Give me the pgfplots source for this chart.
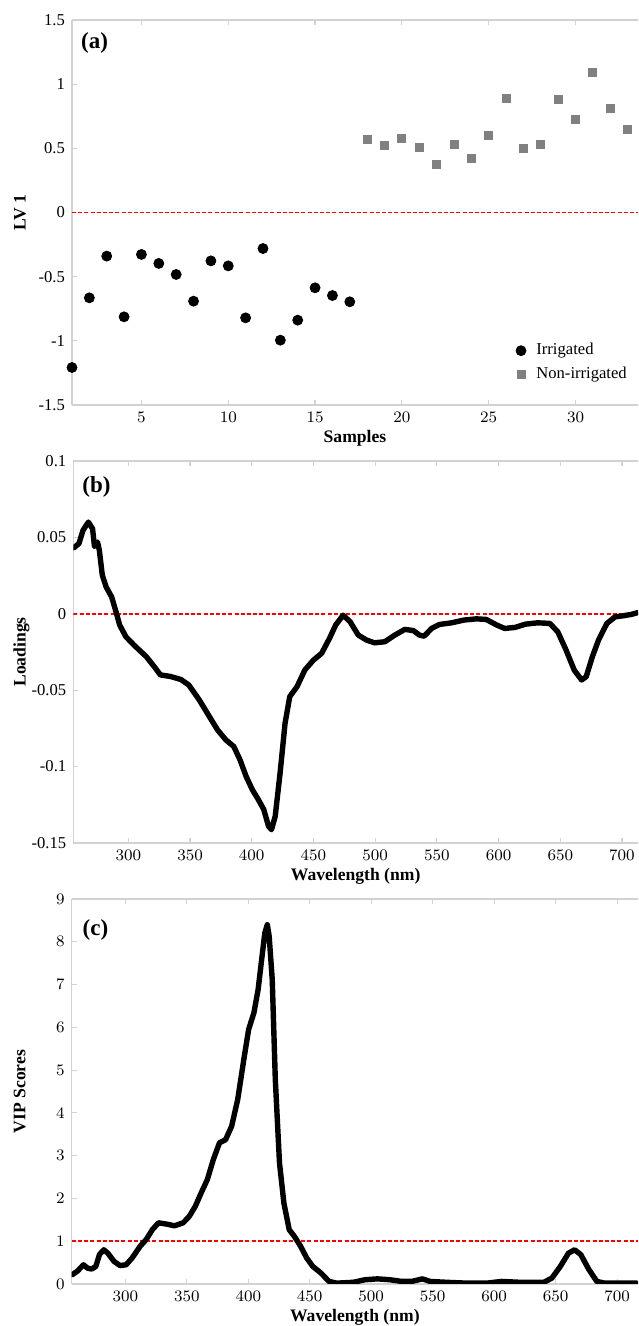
\documentclass[border=0pt]{standalone}
\usepackage{pgfplots}
\pgfplotsset{compat=1.18}
\usepackage{fontspec}
\setmainfont{Liberation Serif}
\definecolor{axgray}{RGB}{210,210,210}
\definecolor{sqgray}{RGB}{128,128,128}
\pgfplotsset{
  panel/.style={
    scale only axis, anchor=south west,
    axis y line*=left,
    axis line style={axgray, line width=0.7pt},
    tick style={axgray, line width=0.6pt},
    major tick length=2.5pt,
    tick align=inside,
    ticklabel style={font=\fontsize{8.3}{9}\selectfont, text=black},
    every axis y label/.style={at={(axis description cs:-0.092,0.5)}, rotate=90, anchor=center, font=\bfseries\fontsize{8.8}{10}\selectfont},
    every axis x label/.style={at={(axis description cs:0.5,-0.087)}, anchor=center, font=\bfseries\fontsize{8.8}{10}\selectfont},
    clip mode=individual,
  },
  redline/.style={red, dashed, line width=0.9pt, dash pattern=on 2pt off 1.1pt},
  curve/.style={black, line width=2.7pt, line join=round, line cap=round},
}
\begin{document}
\begin{tikzpicture}
\path[use as bounding box] (0,0) rectangle (319pt,663pt);

% ---------- (a)
\begin{axis}[panel,
  at={(36pt,460.5pt)}, width=283pt, height=192.5pt,
  xmin=1, xmax=33.6, ymin=-1.5, ymax=1.5,
  xtick={5,10,15,20,25,30},
  ytick={-1.5,-1,-0.5,0,0.5,1,1.5},
  yticklabels={-1.5,-1,-0.5,0,0.5,1,1.5},
  xlabel={Samples}, ylabel={LV 1},
  legend style={at={(axis cs:26.55,-0.955)}, anchor=north west, draw=none, fill=none,
    font=\fontsize{8.3}{10}\selectfont, row sep=0.6pt, inner xsep=0pt,
    /tikz/every odd column/.append style={column sep=3.2pt}},
  legend cell align=left,
]
\addplot[only marks, mark=*, mark size=2.5pt, black] coordinates {
(1,-1.208) (2,-0.665) (3,-0.340) (4,-0.813) (5,-0.327) (6,-0.397) (7,-0.483)
(8,-0.691) (9,-0.377) (10,-0.416) (11,-0.821) (12,-0.281) (13,-0.995) (14,-0.839)
(15,-0.587) (16,-0.647) (17,-0.696)};
\addlegendentry{Irrigated}
\addplot[only marks, mark=square*, mark size=2pt, sqgray] coordinates {
(18,0.566) (19,0.525) (20,0.574) (21,0.509) (22,0.377) (23,0.532) (24,0.418)
(25,0.597) (26,0.888) (27,0.499) (28,0.527) (29,0.881) (30,0.727) (31,1.091)
(32,0.810) (33,0.647)};
\addlegendentry{Non-irrigated}
\addplot[redline, forget plot] coordinates {(1,0) (33.6,0)};
\node[font=\bfseries\fontsize{11.5}{13}\selectfont] at (rel axis cs:0.04,0.94) {(a)};
\end{axis}

% ---------- (b)
\begin{axis}[panel,
  at={(36.65pt,241.5pt)}, width=282.35pt, height=191pt,
  xmin=255.4, xmax=713, ymin=-0.15, ymax=0.1,
  xtick={300,350,400,450,500,550,600,650,700},
  ytick={-0.15,-0.1,-0.05,0,0.05,0.1},
  yticklabels={-0.15,-0.1,-0.05,0,0.05,0.1},
  xlabel={Wavelength (nm)}, ylabel={Loadings},
]
\addplot[redline] coordinates {(255.4,0) (713,0)};
\addplot[curve] coordinates {
(256,0.0433) (260,0.046) (263.3,0.0547) (267.6,0.060) (271,0.0557) (272.6,0.044)
(275,0.047) (276.5,0.0416) (278.9,0.0253) (282,0.0176) (286.5,0.011) (290,0.0013)
(293,-0.0074) (298,-0.015) (304.6,-0.0205) (314.5,-0.028) (321,-0.0346) (326,-0.040)
(334,-0.041) (342.6,-0.043) (349,-0.0466) (357.5,-0.0564) (365.7,-0.0673) (372.3,-0.076)
(379,-0.0825) (385.5,-0.0869) (390.5,-0.0956) (395.5,-0.1065) (400.4,-0.115) (405.4,-0.1217)
(409.7,-0.128) (413.6,-0.139) (416,-0.1413) (419,-0.1326) (423,-0.104) (427,-0.0716)
(430.8,-0.0542) (436.7,-0.0477) (443,-0.0368) (450,-0.0303) (456.6,-0.0259) (463,-0.0161)
(468,-0.0074) (474,-0.0009) (479.7,-0.0052) (486.3,-0.0139) (493,-0.0172) (499.5,-0.019)
(507.8,-0.0183) (516,-0.0139) (524,-0.0102) (531,-0.011) (536,-0.014) (539.8,-0.0146)
(545.7,-0.0096) (552,-0.007) (562,-0.0059) (572,-0.0041) (582,-0.0033) (590,-0.0037)
(598.6,-0.0074) (605,-0.0096) (613.5,-0.0089) (621.7,-0.0068) (631.6,-0.0059) (641.5,-0.0063)
(648,-0.0118) (654.7,-0.0237) (661.3,-0.0368) (667.3,-0.0433) (671,-0.0412) (676,-0.0281)
(681,-0.0172) (687.8,-0.0063) (694.4,-0.002) (701,-0.0013) (707.6,-0.0004) (712.5,0.0007)};
\node[font=\bfseries\fontsize{11.5}{13}\selectfont] at (rel axis cs:0.041,0.932) {(b)};
\end{axis}

% ---------- (c)
\begin{axis}[panel,
  at={(35.85pt,21pt)}, width=283.15pt, height=192.5pt,
  xmin=256.4, xmax=717, ymin=0, ymax=9,
  xtick={300,350,400,450,500,550,600,650,700},
  ytick={0,1,2,3,4,5,6,7,8,9},
  xlabel={Wavelength (nm)}, ylabel={VIP Scores},
]
\addplot[redline] coordinates {(256.4,1) (717,1)};
\addplot[curve] coordinates {
(257,0.22) (261,0.30) (266,0.45) (269.3,0.37) (272.6,0.35) (276,0.41) (279,0.69)
(282.5,0.80) (285.8,0.72) (290.8,0.53) (295.7,0.43) (300.7,0.45) (305.6,0.61) (312,0.88)
(317,1.04) (322,1.27) (327,1.43) (333.7,1.40) (340,1.36) (347,1.43) (352,1.58)
(357,1.82) (361.7,2.13) (366.7,2.44) (371.6,2.91) (376.6,3.30) (381.5,3.37) (386.5,3.69)
(391.4,4.31) (396.4,5.25) (400.3,5.95) (404.6,6.34) (408,6.88) (411.2,7.66) (413.5,8.21)
(415.5,8.40) (417,8.13) (419.5,7.12) (422,4.78) (425.4,2.83) (429,1.89) (433.3,1.27)
(437.6,1.11) (442.6,0.88) (447.5,0.61) (452.5,0.41) (459,0.26) (465.7,0.06) (472,0.02)
(485.5,0.04) (495,0.10) (505,0.12) (515,0.10) (525,0.06) (533,0.06) (541.6,0.12)
(548,0.06) (561,0.04) (578,0.02) (594,0.02) (606,0.06) (620.8,0.04) (640.5,0.04)
(647,0.14) (653.8,0.41) (660.4,0.72) (665.4,0.80) (670.4,0.69) (677,0.34) (683.5,0.06)
(690,0.02) (716,0.02)};
\node[font=\bfseries\fontsize{11.5}{13}\selectfont] at (rel axis cs:0.042,0.92) {(c)};
\end{axis}
\end{tikzpicture}
\end{document}
